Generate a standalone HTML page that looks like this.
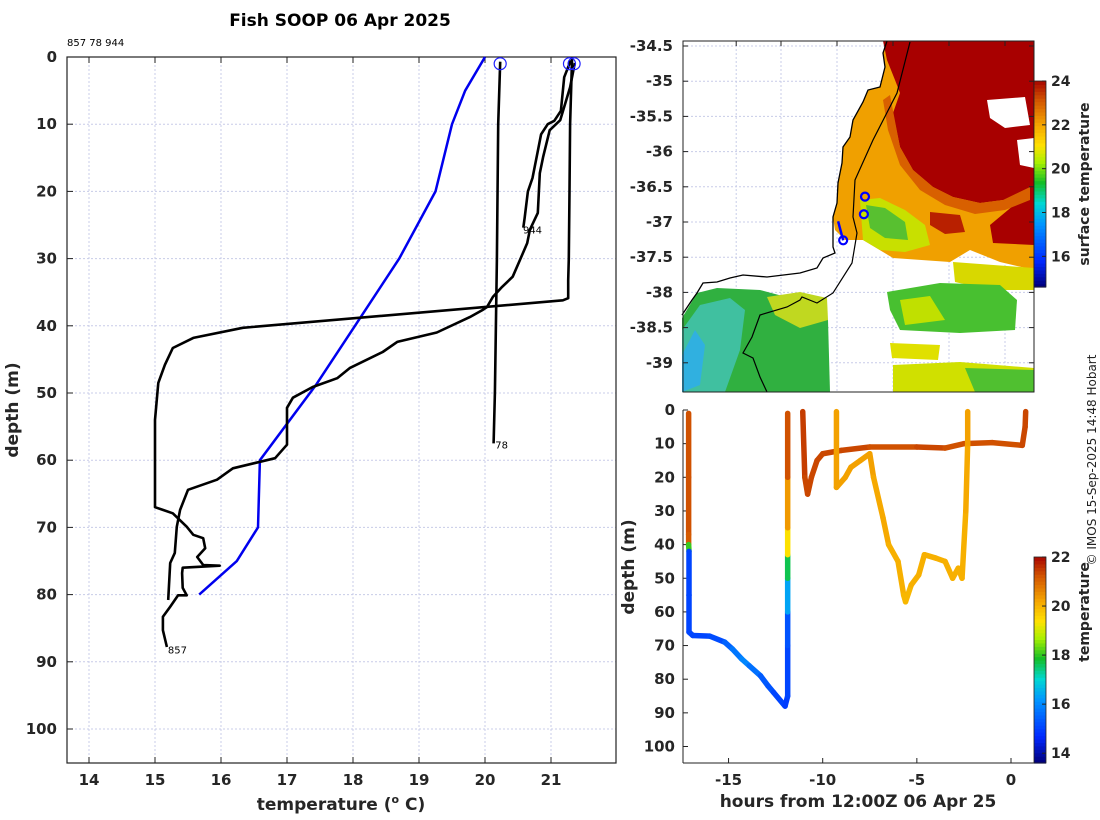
<!DOCTYPE html>
<html><head><meta charset="utf-8">
<style>
body{margin:0;background:#fff;}
svg{display:block;font-family:"DejaVu Sans","Liberation Sans",sans-serif;}
.tk{font-size:15px;font-weight:bold;fill:#262626;}
.ck{font-size:14px;font-weight:bold;fill:#262626;}
.lb{font-size:17px;font-weight:bold;fill:#262626;}
</style></head>
<body>
<svg id="fig" width="1100" height="820" viewBox="0 0 1100 820" xmlns="http://www.w3.org/2000/svg">
<g id="main"></g>
<g id="map"></g>
<g id="sect"></g>
</svg>
<script>
// ---------- profile chart data ----------
const xTicks=[14,15,16,17,18,19,20,21];
const yTicks=[0,10,20,30,40,50,60,70,80,90,100];
const climTemp=[20.0,19.7,19.5,19.25,18.7,18.05,17.44,16.59,16.56,16.24,15.67];
const climDepth=[0,5,10,20,30,39.7,48.8,60,70,75,80];
const p857Temp=[21.32,21.29,21.28,21.27,21.26,21.26,21.18,16.33,15.58,15.27,15.15,15.05,15.0,15.0,15.12,15.27,15.48,15.58,15.73,15.76,15.64,15.73,15.98,15.42,15.41,15.42,15.48,15.35,15.23,15.12,15.12,15.18];
const p857Depth=[0,10,20,30,33.2,35.9,36.2,40.3,41.8,43.3,45.8,48.5,54,67,67.4,67.9,69.9,71.1,71.6,73.1,74.4,75.6,75.7,76.0,76.8,79,80.1,80.1,81.8,83.3,85.3,87.8];
const p944aTemp=[21.3,21.2,21.15,21.05,20.95,20.85,20.8,20.72,20.65,20.6,20.58];
const p944aDepth=[0.5,3,8,9.5,10,11.5,14,18,20,24,25.4];
const p944bTemp=[21.36,21.29,21.14,20.98,20.88,20.83,20.8,20.68,20.64,20.53,20.42,20.26,20.12,20.03,19.97,19.77,19.27,18.67,18.45,17.95,17.76,17.39,17.09,17.0,17.0,16.82,16.18,15.94,15.5,15.38,15.33,15.3,15.23,15.2];
const p944bDepth=[0.9,4.5,9.4,10.9,14.9,17.3,23.2,25.7,27.7,30.2,32.7,34.2,35.7,37.2,37.6,38.7,41,42.4,43.9,46.3,47.8,49.1,50.7,52.2,57.7,59.7,61.2,62.9,64.4,67.4,69.9,73.8,75.3,80.8];
const p78Temp=[20.23,20.2,20.18,20.15,20.13];
const p78Depth=[0.7,10,30,50,57.5];
const startTemp=[20.23,21.28,21.35];
const castLabels=["857","78","944"];
const labTemp=[15.18,20.14,20.56];
const labDepth=[88,57.5,25.5];

// ---------- section chart data ----------
const secXTicks=[-15,-10,-5,0];
const secYTicks=[0,10,20,30,40,50,60,70,80,90,100];
const c1Hour=[-17.12,-17.12,-17.12,-17.12,-17.1,-17.1,-17.1,-16.9,-16.0,-15.2,-14.8,-14.3,-13.9,-13.3,-12.9,-12.6,-12.0,-11.86,-11.86,-11.86,-11.86,-11.86,-11.86,-11.86,-11.86];
const c1Depth=[1,20,37,40,42,55,66,67,67.2,69,71,74,76,79,82,84,88,85,70,60,50,43,35,20,1];
const c1Temp=[21.2,21.2,21.1,18.0,15.0,15.0,15.0,15.0,15.1,15.4,15.7,15.9,15.6,15.3,15.2,15.0,14.9,15.0,15.2,16.3,17.6,19.3,20.3,21.2,21.3];
const c2Hour=[-11.06,-10.95,-10.8,-10.6,-10.3,-10.0,-9.0,-7.5,-5.0,-3.5,-2.5,-1.0,0.6,0.75,0.78];
const c2Depth=[0.5,20,25,20,15,13,12,11,11,11.3,10,9.7,10.5,5,0.5];
const c2Temp=[21.4,21.3,21.3,21.3,21.3,21.3,21.3,21.2,21.3,21.2,21.2,21.2,21.3,21.3,21.4];
const c3Hour=[-9.27,-9.27,-8.8,-8.5,-8.0,-7.5,-7.3,-6.8,-6.5,-6.0,-5.7,-5.6,-5.3,-4.9,-4.6,-4.0,-3.5,-3.1,-2.8,-2.6,-2.4,-2.3,-2.3];
const c3Depth=[0.5,23,20,17,15,13,20,32,40,45,55,57,52,49,43,44,45,50,47,50,30,10,0.5];
const c3Temp=[20.2,20.2,20.2,20.2,20.2,20.2,20.1,20.1,20.0,20.0,19.9,19.9,20.0,20.0,20.0,20.0,20.0,20.0,20.0,20.0,20.1,20.2,20.2];

// ---------- map data ----------
const mapLatTicks=[-34.5,-35,-35.5,-36,-36.5,-37,-37.5,-38,-38.5,-39];
const mapLatLabels=["-34.5","-35","-35.5","-36","-36.5","-37","-37.5","-38","-38.5","-39"];
const mapLonTicks=[148.2,149,150,151,152,153];
const mapLonLabels=["148","149","150","151","152","153"];
const obsLon=[150.5,150.48,150.11];
const obsLat=[-36.64,-36.89,-37.26];
const sstTicks=[16,18,20,22,24];
const secCbTicks=[14,16,18,20,22];

const NS="http://www.w3.org/2000/svg";
function mk(parent,tag,attrs,text){const e=document.createElementNS(NS,tag);for(const k in attrs)e.setAttribute(k,attrs[k]);if(text!==undefined)e.textContent=text;parent.appendChild(e);return e;}
const CM=[[0,0,0,128],[0.12,0,40,255],[0.3,0,150,255],[0.4,0,215,210],[0.5,20,190,40],[0.6,170,240,0],[0.68,255,225,0],[0.78,245,165,0],[0.9,210,85,0],[1,165,0,0]];
function jet(v,lo,hi){let t=Math.max(0,Math.min(1,(v-lo)/(hi-lo)));let i=0;while(i<CM.length-2&&t>CM[i+1][0])i++;const a=CM[i],b=CM[i+1],f=(t-a[0])/(b[0]-a[0]);const c=k=>Math.round(a[k]+(b[k]-a[k])*f);return `rgb(${c(1)},${c(2)},${c(3)})`;}

// ===== profile chart =====
const M=document.getElementById('main');
const X=t=>89+(t-14)*66, Y=d=>57+d*6.72;
const L=67,R=616,T=57,B=763;
mk(M,'text',{x:340,y:26,'text-anchor':'middle','font-size':17,'font-weight':'bold',fill:'#000',},'Fish SOOP 06 Apr 2025');
mk(M,'text',{x:67,y:46,'font-size':10,fill:'#000',},'857 78 944');
xTicks.forEach(v=>{
  mk(M,'line',{x1:X(v),x2:X(v),y1:T,y2:B,stroke:'#c8cce8','stroke-dasharray':'2,2','stroke-width':1,});
  mk(M,'line',{x1:X(v),x2:X(v),y1:B,y2:B-6,stroke:'#222',});
  mk(M,'line',{x1:X(v),x2:X(v),y1:T,y2:T+6,stroke:'#222',});
  mk(M,'text',{x:X(v),y:785,'text-anchor':'middle',class:'tk',},v);
});
yTicks.forEach(v=>{
  mk(M,'line',{x1:L,x2:R,y1:Y(v),y2:Y(v),stroke:'#c8cce8','stroke-dasharray':'2,2',});
  mk(M,'line',{x1:L,x2:L+6,y1:Y(v),y2:Y(v),stroke:'#222',});
  mk(M,'text',{x:57,y:Y(v)+5,'text-anchor':'end',class:'tk',},v);
});
mk(M,'rect',{x:L,y:T,width:R-L,height:B-T,fill:'none',stroke:'#222','stroke-width':1.2,});
const pl=(ts,ds)=>ts.map((t,i)=>`${X(t).toFixed(1)},${Y(ds[i]).toFixed(1)}`).join(' ');
mk(M,'polyline',{points:pl(climTemp,climDepth),fill:'none',stroke:'#0000ee','stroke-width':2.5,});
[[p857Temp,p857Depth,'profile-857'],[p944aTemp,p944aDepth,'profile-944-a'],[p944bTemp,p944bDepth,'profile-944-b'],[p78Temp,p78Depth,'profile-78']].forEach(s=>{
  mk(M,'polyline',{points:pl(s[0],s[1]),fill:'none',stroke:'#000','stroke-width':2.6,'stroke-linejoin':'round',});
});
startTemp.forEach(t=>{mk(M,'circle',{cx:X(t),cy:Y(1),r:6,fill:'none',stroke:'#2020ff','stroke-width':1.2,});});
castLabels.forEach((s,i)=>{mk(M,'text',{x:X(labTemp[i])+1,y:Y(labDepth[i])+5,'font-size':10,fill:'#000',},s);});
mk(M,'text',{transform:'translate(18,410) rotate(-90)','text-anchor':'middle',class:'lb',},'depth (m)');
const xt=mk(M,'text',{x:341,y:810,'text-anchor':'middle',class:'lb',},'temperature (');
mk(xt,'tspan',{dy:-7,'font-size':11},'o');mk(xt,'tspan',{dy:7},' C)');

// ===== map =====
const G=document.getElementById('map');
const mL=683,mR=1034,mT=41,mB=392;
const LX=lon=>837+(lon-150)*56, LY=lat=>46+(-34.5-lat)*70.4;
mapLonTicks.forEach(v=>mk(G,'line',{x1:LX(v),x2:LX(v),y1:mT,y2:mB,stroke:'#c8cce8','stroke-dasharray':'2,2',}));
mapLatTicks.forEach(v=>mk(G,'line',{x1:mL,x2:mR,y1:LY(v),y2:LY(v),stroke:'#c8cce8','stroke-dasharray':'2,2',}));
const poly=(pts,fill,name)=>{const e=mk(G,'polygon',{points:pts,fill:fill});return e;};
poly('887,41 1034,41 1034,270 1000,262 970,250 950,262 893,258 863,240 845,240 835,230 833,217 837,203 838,183 842,163 843,147 850,137 853,120 863,102 868,90 880,87 885,67 883,53','#f0a000','sst-warm-band');
poly('883,41 1034,41 1034,245 993,243 990,225 1020,200 1003,200 980,203 953,197 933,187 913,170 900,147 893,113 900,93 895,80 887,60','#a80000','sst-eac-core');
poly('890,95 900,147 913,170 933,187 953,197 980,203 1003,200 1030,187 1030,200 1005,210 975,214 945,205 920,190 900,165 888,130 883,100','#d86000','sst-front');
poly('930,212 960,215 965,232 945,234 930,225','#b82000','sst-eddy');
poly('860,200 880,198 905,210 925,225 930,245 905,252 880,250 863,240','#c8e000','sst-cool-patch');
poly('866,205 885,208 905,222 908,240 885,238 870,228','#58c030','sst-green-patch');
poly('987,100 1025,97 1030,125 1005,128 990,118','#ffffff','sst-cloud');
poly('1017,140 1034,138 1034,168 1020,165','#ffffff','sst-cloud');
poly('953,262 1034,268 1034,290 990,290 955,282','#d8d800','sst-patch');
poly('887,292 940,283 1000,285 1017,300 1015,330 960,333 900,330 890,310','#48c030','sst-patch');
poly('900,300 930,296 945,320 905,325','#c0e000','sst-patch');
poly('890,343 940,345 938,360 892,358','#e0e000','sst-patch');
poly('893,365 960,362 1034,368 1034,392 893,392','#d0e000','sst-patch');
poly('965,368 1034,370 1034,392 975,392','#50c030','sst-patch');
poly('682,318 697,293 717,288 760,290 790,298 815,305 828,320 830,392 682,392','#30b040','sst-shelf-water');
poly('682,330 700,305 730,298 745,310 740,350 725,392 682,392','#40c0a0','sst-cool-water');
poly('682,355 695,330 705,345 700,385 682,392','#30b0e0','sst-cold-core');
poly('767,297 800,292 827,298 828,320 800,328 775,315','#c0d820','sst-patch');
mk(G,'polyline',{points:'887,41 883,53 885,67 880,87 868,90 863,102 853,120 850,137 843,147 842,163 838,183 837,203 833,217 833,247 835,253 823,258 817,268 800,273 767,277 743,275 730,278 717,282 703,283 697,293 692,300 682,315',fill:'none',stroke:'#000','stroke-width':1.3,});
mk(G,'polyline',{points:'910,42 897,93 873,140 855,180 853,217 857,233 852,263 833,293 817,303 802,297 800,300 787,307 760,315 752,337 743,353 753,358 760,377 767,392',fill:'none',stroke:'#000','stroke-width':1.2,});
mk(G,'line',{x1:LX(150.02),y1:LY(-36.99),x2:LX(obsLon[2]),y2:LY(obsLat[2]),stroke:'#0000ff','stroke-width':2.5,});
obsLon.forEach((lo,i)=>mk(G,'circle',{cx:LX(lo),cy:LY(obsLat[i]),r:4,fill:'none',stroke:'#0000ff','stroke-width':2.2,}));
mk(G,'rect',{x:mL,y:mT,width:mR-mL,height:mB-mT,fill:'none',stroke:'#222',});
mapLatTicks.forEach((v,i)=>{
  mk(G,'line',{x1:mL,x2:mL+5,y1:LY(v),y2:LY(v),stroke:'#222'});
  mk(G,'line',{x1:mR,x2:mR-5,y1:LY(v),y2:LY(v),stroke:'#222'});
  mk(G,'text',{x:673,y:LY(v)+5,'text-anchor':'end',class:'tk',},mapLatLabels[i]);
});
mapLonTicks.forEach((v,i)=>{
  mk(G,'line',{x1:LX(v),x2:LX(v),y1:mT,y2:mT+5,stroke:'#222'});
  mk(G,'text',{x:LX(v),y:416,'text-anchor':'middle',class:'tk',},mapLonLabels[i]);
});
const cbY=v=>287-(v-14.6)/(24-14.6)*206;
for(let k=0;k<60;k++){const v0=14.6+k*(9.4/60);mk(G,'rect',{x:1034,y:cbY(v0+9.4/60),width:12,height:206/60+0.6,fill:jet(v0,14.6,24),});}
mk(G,'rect',{x:1034,y:81,width:12,height:206,fill:'none',stroke:'#222','stroke-width':0.8,});
sstTicks.forEach(v=>{mk(G,'line',{x1:1046,x2:1042,y1:cbY(v),y2:cbY(v),stroke:'#222'});mk(G,'text',{x:1051,y:cbY(v)+5,class:'ck',},v);});
mk(G,'text',{transform:'translate(1089,184) rotate(-90)','text-anchor':'middle','font-size':14,'font-weight':'bold',fill:'#262626',},'surface temperature');

// ===== section =====
const S=document.getElementById('sect');
mk(S,'rect',{x:622,y:400,width:412,height:420,fill:'#fff',});
const sL=683,sR=1034,sT=410,sB=763;
const HX=h=>1011+h*18.83, DY=d=>410+d*3.365;
mk(S,'line',{x1:sL,x2:sL,y1:sT,y2:sB,stroke:'#222',});
mk(S,'line',{x1:sL,x2:sR,y1:sB,y2:sB,stroke:'#222',});
secYTicks.forEach(v=>{mk(S,'line',{x1:sL,x2:sL+5,y1:DY(v),y2:DY(v),stroke:'#222'});mk(S,'text',{x:675,y:DY(v)+5,'text-anchor':'end',class:'tk',},v);});
secXTicks.forEach(v=>{mk(S,'line',{x1:HX(v),x2:HX(v),y1:sB,y2:sB-5,stroke:'#222'});mk(S,'text',{x:HX(v),y:785,'text-anchor':'middle',class:'tk',},v);});
[[c1Hour,c1Depth,c1Temp,'cast-857-track'],[c2Hour,c2Depth,c2Temp,'cast-944-track'],[c3Hour,c3Depth,c3Temp,'cast-78-track']].forEach(s=>{
  const g=mk(S,'g',{});
  for(let i=0;i<s[0].length-1;i++){
    mk(g,'line',{x1:HX(s[0][i]),y1:DY(s[1][i]),x2:HX(s[0][i+1]),y2:DY(s[1][i+1]),stroke:jet(s[2][i],13.6,22),'stroke-width':5.5,'stroke-linecap':'round',});
  }
});
const cb2=v=>763-(v-13.6)/(22-13.6)*206;
for(let k=0;k<60;k++){const v0=13.6+k*(8.4/60);mk(S,'rect',{x:1034,y:cb2(v0+8.4/60),width:12,height:206/60+0.6,fill:jet(v0,13.6,22),});}
mk(S,'rect',{x:1034,y:557,width:12,height:206,fill:'none',stroke:'#222','stroke-width':0.8,});
secCbTicks.forEach(v=>{mk(S,'line',{x1:1046,x2:1042,y1:cb2(v),y2:cb2(v),stroke:'#222'});mk(S,'text',{x:1051,y:cb2(v)+5,class:'ck',},v);});
mk(S,'text',{transform:'translate(1089,612) rotate(-90)','text-anchor':'middle','font-size':14,'font-weight':'bold',fill:'#262626',},'temperature');
mk(S,'text',{transform:'translate(634,567) rotate(-90)','text-anchor':'middle',class:'lb',},'depth (m)');
mk(S,'text',{x:858,y:807,'text-anchor':'middle',class:'lb',},'hours from 12:00Z 06 Apr 25');
mk(S,'text',{transform:'translate(1096,460) rotate(-90)','text-anchor':'middle','font-size':12,fill:'#222',},'© IMOS 15-Sep-2025 14:48 Hobart');
</script>
</body></html>
